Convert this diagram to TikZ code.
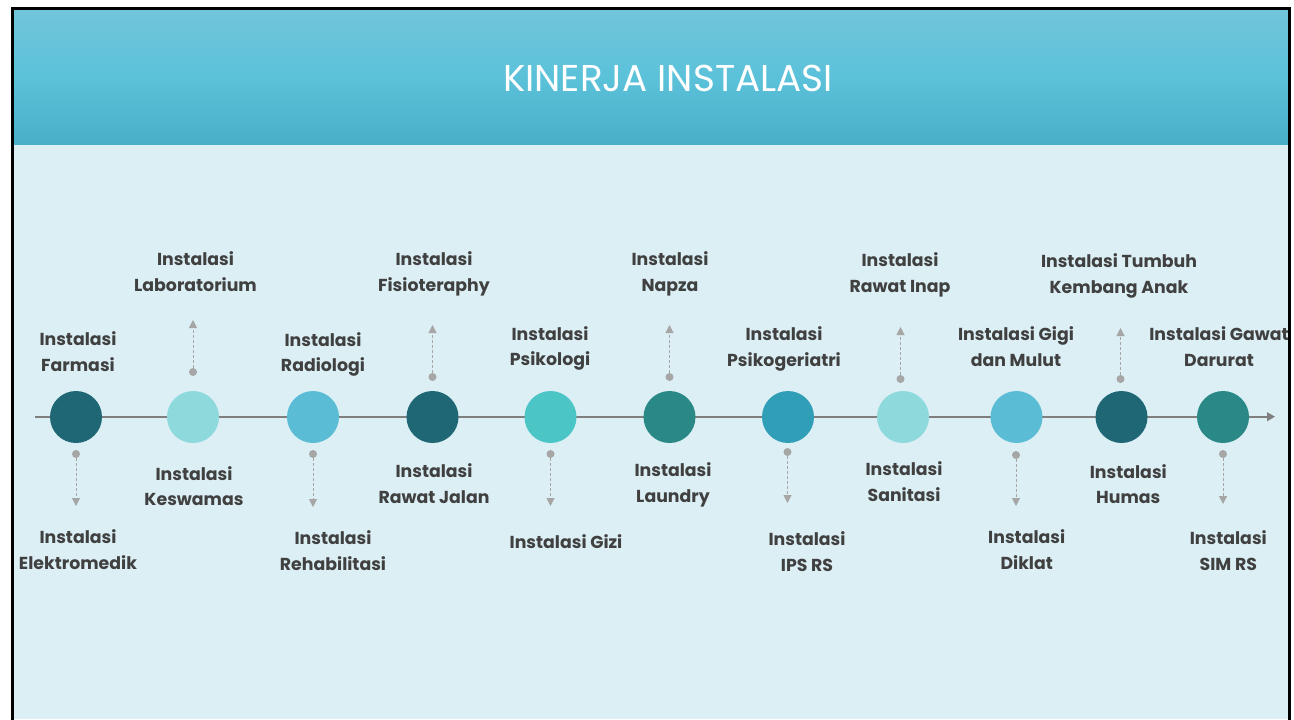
\documentclass[tikz,border=0pt]{standalone}
\usepackage{fontspec}
\setmainfont{Poppins}
\usetikzlibrary{arrows.meta}
\definecolor{bodybg}{RGB}{219,239,244}
\definecolor{headtop}{RGB}{114,197,218}
\definecolor{headmid}{RGB}{91,194,218}
\definecolor{headbot}{RGB}{73,174,200}
\definecolor{txtgray}{RGB}{64,64,64}
\definecolor{linegray}{RGB}{127,127,127}
\definecolor{dotgray}{RGB}{166,166,166}
\definecolor{cdark}{RGB}{31,103,117}
\definecolor{clight}{RGB}{142,217,219}
\definecolor{csky}{RGB}{91,189,213}
\definecolor{cturq}{RGB}{75,197,198}
\definecolor{cteal}{RGB}{42,136,134}
\definecolor{cblue}{RGB}{49,158,184}
\tikzset{
  bubble/.style={circle,inner sep=0pt,minimum size=39pt,fill=#1,draw=none},
  pin/.style={circle,inner sep=0pt,minimum size=6pt,fill=dotgray,draw=none},
  lbl/.style={align=center,text=txtgray,inner sep=0pt,font=\fontsize{13}{19.3}\selectfont\bfseries},
  guide/.style={draw=dotgray,line width=0.75pt,dash pattern=on 2.25pt off 1.5pt,-{Triangle[length=6pt,width=6pt]}},
  timeline/.style={draw=linegray,line width=1.5pt,-{Triangle[length=6pt,width=6.5pt]}},
}
\begin{document}
\begin{tikzpicture}[x=0.75pt,y=-0.75pt]
\useasboundingbox (0,0) rectangle (1294,719);
\fill[white] (0,0) rectangle (1294,719);
\begin{scope}
\clip (12.5,8) rectangle (1289,719);
\fill[bodybg] (12.5,8) rectangle (1289,719);
\shade[top color=headtop,bottom color=headbot,middle color=headmid] (12.5,8) rectangle (1289,144);
\node[text=white,inner sep=0pt,font=\fontsize{28}{32}\selectfont] (title) at (668,78) {KINERJA INSTALASI};
% timeline
\coordinate (tlstart) at (35,416.7);
\coordinate (tlend) at (1275,416.7);
\draw[timeline] (tlstart) -- (tlend);
% circles
\node[bubble=cdark]  (c1)  at (76,417) {};
\node[bubble=clight] (c2)  at (193,417) {};
\node[bubble=csky]   (c3)  at (313,417) {};
\node[bubble=cdark]  (c4)  at (432.5,417) {};
\node[bubble=cturq]  (c5)  at (550.5,417) {};
\node[bubble=cteal]  (c6)  at (669.5,417) {};
\node[bubble=cblue]  (c7)  at (788,417) {};
\node[bubble=clight] (c8)  at (903,417) {};
\node[bubble=csky]   (c9)  at (1016.5,417) {};
\node[bubble=cdark]  (c10) at (1121.5,417) {};
\node[bubble=cteal]  (c11) at (1223,417) {};
% dots and guide arrows
\node[pin] (d1)  at (76,454) {};     \coordinate (t1)  at (76,506);
\node[pin] (d2)  at (193,372) {};    \coordinate (t2)  at (193,320);
\node[pin] (d3)  at (313,454) {};    \coordinate (t3)  at (313,507);
\node[pin] (d4)  at (432.5,377) {};  \coordinate (t4)  at (432.5,325);
\node[pin] (d5)  at (550.5,454) {};  \coordinate (t5)  at (550.5,506);
\node[pin] (d6)  at (669.5,377) {};  \coordinate (t6)  at (669.5,325);
\node[pin] (d7)  at (787.5,452) {};  \coordinate (t7)  at (787.5,503);
\node[pin] (d8)  at (900.5,379) {};  \coordinate (t8)  at (900.5,327);
\node[pin] (d9)  at (1016,455) {};   \coordinate (t9)  at (1016,506);
\node[pin] (d10) at (1120.5,379) {}; \coordinate (t10) at (1120.5,328);
\node[pin] (d11) at (1223,454) {};   \coordinate (t11) at (1223,504);
\foreach \i in {1,...,11} {\draw[guide] (d\i) -- (t\i);}
% labels
\node[lbl] (l1a)  at (78,353.5)   {Instalasi\strut\\Farmasi\strut};
\node[lbl] (l1b)  at (78,551.5)   {Instalasi\strut\\Elektromedik\strut};
\node[lbl] (l2a)  at (195.5,273.6){Instalasi\strut\\Laboratorium\strut};
\node[lbl] (l2b)  at (194,487.8)  {Instalasi\strut\\Keswamas\strut};
\node[lbl] (l3a)  at (323,353.8)  {Instalasi\strut\\Radiologi\strut};
\node[lbl] (l3b)  at (333,552.1)  {Instalasi\strut\\Rehabilitasi\strut};
\node[lbl] (l4a)  at (434,273.7)  {Instalasi\strut\\Fisioteraphy\strut};
\node[lbl] (l4b)  at (434,485.3)  {Instalasi\strut\\Rawat Jalan\strut};
\node[lbl] (l5a)  at (550,347.8)  {Instalasi\strut\\Psikologi\strut};
\node[lbl] (l5b)  at (566,543.6)  {Instalasi Gizi\strut};
\node[lbl] (l6a)  at (670,273.6)  {Instalasi\strut\\Napza\strut};
\node[lbl] (l6b)  at (673,484.4)  {Instalasi\strut\\Laundry\strut};
\node[lbl] (l7a)  at (784,348.3)  {Instalasi\strut\\Psikogeriatri\strut};
\node[lbl] (l7b)  at (807,553.3)  {Instalasi\strut\\IPS RS\strut};
\node[lbl] (l8a)  at (900,274.6)  {Instalasi\strut\\Rawat Inap\strut};
\node[lbl] (l8b)  at (904,483.3)  {Instalasi\strut\\Sanitasi\strut};
\node[lbl] (l9a)  at (1016,348.6) {Instalasi Gigi\strut\\dan Mulut\strut};
\node[lbl] (l9b)  at (1026.7,551.6){Instalasi\strut\\Diklat\strut};
\node[lbl] (l10a) at (1119,275)   {Instalasi Tumbuh\strut\\Kembang Anak\strut};
\node[lbl] (l10b) at (1128.3,485.8){Instalasi\strut\\Humas\strut};
\node[lbl] (l11a) at (1219,348.6) {Instalasi Gawat\strut\\Darurat\strut};
\node[lbl] (l11b) at (1228.3,552)  {Instalasi\strut\\SIM RS\strut};
\end{scope}
% slide border
\draw[black,line width=2.25pt] (12.5,730) -- (12.5,8) -- (1289,8) -- (1289,730);
\end{tikzpicture}
\end{document}
